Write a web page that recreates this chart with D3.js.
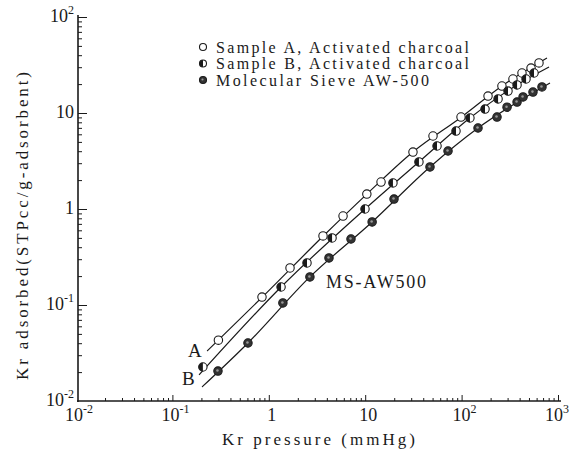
<!DOCTYPE html>
<html>
<head>
<meta charset="utf-8">
<script src="https://cdn.jsdelivr.net/npm/d3@7"></script>
<style>
  body { margin: 0; background: #fff; }
  svg text { font-family: "Liberation Serif", "DejaVu Serif", serif; fill: #1a1a1a; }
</style>
</head>
<body>
<svg id="chart" width="571" height="454"></svg>
<script>

// measured points, [pressure mmHg, adsorbed STPcc/g]
var sample_a = [[0.30,0.043],[0.85,0.121],[1.66,0.243],[3.65,0.524],[5.89,0.845],[10.4,1.43],[14.6,1.91],[31.3,3.92],[50.5,5.76],[98.6,9.08],[188,15.0],[262,19.1],[341,22.6],[423,26.1],[525,29.4],[635,33.2]];
var sample_b = [[0.207,0.0226],[1.34,0.154],[2.49,0.274],[4.53,0.499],[9.95,1.0],[19.4,1.87],[36.1,3.09],[55.6,4.53],[87.5,6.49],[122,8.87],[175,11.0],[239,14.0],[303,16.9],[376,19.6],[466,22.6],[564,26.1]];
var sieve = [[0.297,0.0205],[0.608,0.0402],[1.40,0.105],[2.67,0.196],[4.21,0.309],[7.12,0.487],[11.8,0.733],[19.9,1.27],[47.0,2.74],[72.3,4.02],[148,6.98],[233,9.08],[296,11.5],[376,13.0],[434,14.7],[550,16.5],[682,18.7]];

// the drawn curves
var fit_a = [[0.229,0.0332],[0.85,0.12],[3.65,0.52],[10.4,1.43],[31,3.9],[100,9.1],[262,19.1],[769,37.4]];
var fit_b = [[0.189,0.0187],[1.34,0.154],[9.95,1.0],[36,3.09],[122,8.87],[376,19.6],[807,30.1]];
var fit_ms = [[0.203,0.014],[0.608,0.0402],[2.67,0.196],[11.8,0.733],[47,2.74],[148,6.98],[826,20.5]];

var x_ticks = [1e-2, 1e-1, 1, 10, 1e2, 1e3];
var x_tick_labels = [["10","-2"],["10","-1"],["1",""],["10",""],["10","2"],["10","3"]];
var y_ticks = [1e-2, 1e-1, 1, 10, 1e2];
var y_tick_labels = [["10","-2"],["10","-1"],["1",""],["10",""],["10","2"]];

var legend_names = ["Sample A, Activated charcoal", "Sample B, Activated charcoal", "Molecular Sieve AW-500"];

var svg = d3.select("#chart");

var x = d3.scaleLog().domain([1e-2, 1e3]).range([76, 558]);
var y = d3.scaleLog().domain([1e-2, 1e2]).range([401, 17]);

var minor = function(lo, hi) {
    var out = [];
    for ( var e = lo; e < hi; e++ ) {
	for ( var k = 2; k < 10; k++ ) out.push(k * Math.pow(10, e));
    }
    return out;
};

// axes: ticks drawn inward
var ink = "#1a1a1a";

svg.append("g")
    .attr("transform", "translate(78,0)")
    .call(d3.axisLeft(y).tickValues(minor(-2, 2)).tickSize(-4).tickFormat(""))
    .call(function(g) { g.select(".domain").remove(); });

svg.append("g")
    .attr("transform", "translate(78,0)")
    .call(d3.axisLeft(y).tickValues(y_ticks.slice(1)).tickSize(-9).tickFormat(""))
    .call(function(g) { g.select(".domain").remove(); });

svg.append("g")
    .attr("transform", "translate(0,401)")
    .call(d3.axisBottom(x).tickValues(minor(-2, 3)).tickSize(-3).tickFormat(""))
    .call(function(g) { g.select(".domain").remove(); });

svg.append("g")
    .attr("transform", "translate(0,401)")
    .call(d3.axisBottom(x).tickValues(x_ticks.slice(1)).tickSize(-6).tickFormat(""))
    .call(function(g) { g.select(".domain").remove(); });

svg.selectAll(".tick line").attr("stroke", ink).attr("stroke-width", 1);

svg.append("line").attr("x1", 78).attr("x2", 78).attr("y1", 15).attr("y2", 402)
    .attr("stroke", ink).attr("stroke-width", 1.6);
svg.append("line").attr("x1", 77).attr("x2", 561).attr("y1", 401).attr("y2", 401)
    .attr("stroke", ink).attr("stroke-width", 1.6);

// tick labels
var xl = svg.selectAll(".xlab").data(x_ticks).enter().append("text")
    .attr("class", "xlab")
    .attr("x", function(d) { return Math.min(x(d) + 3, 557); })
    .attr("y", 421)
    .attr("text-anchor", "middle")
    .style("font-size", "18px");
xl.append("tspan").text(function(d, i) { return x_tick_labels[i][0]; });
xl.append("tspan").attr("dy", -8).style("font-size", "12px")
    .text(function(d, i) { return x_tick_labels[i][1]; });

var yl = svg.selectAll(".ylab").data(y_ticks).enter().append("text")
    .attr("class", "ylab")
    .attr("x", 74)
    .attr("y", function(d) { return y(d) + 5; })
    .attr("text-anchor", "end")
    .style("font-size", "18px");
yl.append("tspan").text(function(d, i) { return y_tick_labels[i][0]; });
yl.append("tspan").attr("dy", -8).style("font-size", "12px")
    .text(function(d, i) { return y_tick_labels[i][1]; });

// titles
svg.append("text")
    .attr("x", 222).attr("y", 445)
    .attr("textLength", 193)
    .style("font-size", "17px")
    .text("Kr pressure  (mmHg)");

svg.append("text")
    .attr("transform", "translate(28,380) rotate(-90)")
    .attr("textLength", 308)
    .style("font-size", "17px")
    .text("Kr adsorbed(STPcc/g-adsorbent)");

// curves
var line = d3.line()
    .curve(d3.curveMonotoneX)
    .x(function(d) { return x(d[0]); })
    .y(function(d) { return y(d[1]); });

[fit_a, fit_b, fit_ms].forEach(function(f) {
    svg.append("path").datum(f)
	.attr("d", line)
	.attr("fill", "none")
	.attr("stroke", ink)
	.attr("stroke-width", 1.2);
});

// markers
var marker = function(g, kind, cx, cy, r) {
    if ( kind === 0 ) {
	g.append("circle").attr("cx", cx).attr("cy", cy).attr("r", r)
	    .attr("fill", "#fff").attr("stroke", ink).attr("stroke-width", 1.1);
    } else if ( kind === 1 ) {
	g.append("circle").attr("cx", cx).attr("cy", cy).attr("r", r)
	    .attr("fill", "#fff").attr("stroke", ink).attr("stroke-width", 1.1);
	g.append("path")
	    .attr("d", "M" + cx + "," + (cy - r) + " A" + r + "," + r + " 0 0 0 " + cx + "," + (cy + r) + " Z")
	    .attr("fill", ink);
    } else {
	g.append("circle").attr("cx", cx).attr("cy", cy).attr("r", r)
	    .attr("fill", "#333").attr("stroke", ink).attr("stroke-width", 1.1);
	g.append("circle").attr("cx", cx - 0.5).attr("cy", cy - 0.5).attr("r", r * 0.3)
	    .attr("fill", "#999");
    }
};

var pts = svg.append("g");
[sample_a, sample_b, sieve].forEach(function(s, k) {
    s.forEach(function(d) { marker(pts, k, x(d[0]), y(d[1]), 4.2); });
});

// legend
legend_names.forEach(function(name, i) {
    var ly = 47 + i * 16.5;
    marker(svg, i, 203, ly, 3.5);
    svg.append("text")
	.attr("x", 216).attr("y", ly + 5.5)
	.attr("textLength", name.length === 28 ? 253 : 213)
	.style("font-size", "16px")
	.text(name);
});

// curve labels
svg.append("text").attr("x", 188).attr("y", 357).style("font-size", "19px").text("A");
svg.append("text").attr("x", 182).attr("y", 385).style("font-size", "19px").text("B");
svg.append("text").attr("x", 326).attr("y", 288).attr("textLength", 100)
    .style("font-size", "18px").text("MS-AW500");

</script>
</body>
</html>
